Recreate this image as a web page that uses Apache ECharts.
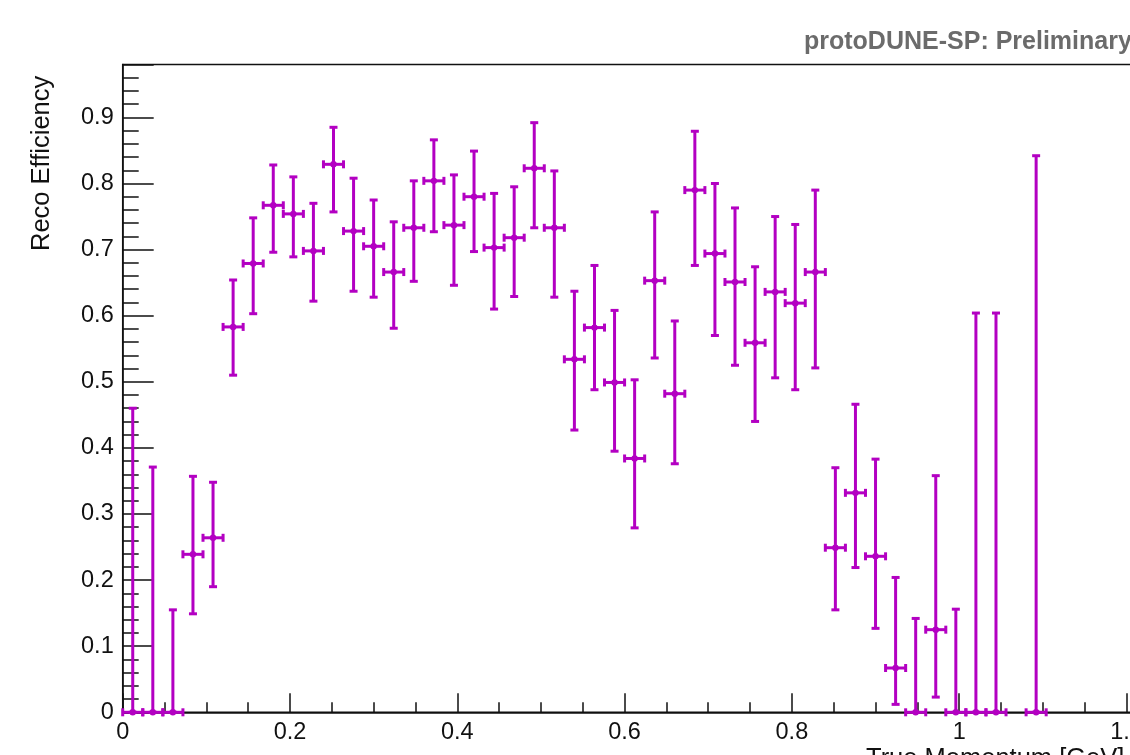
<!DOCTYPE html>
<html><head><meta charset="utf-8">
<script src="https://cdn.jsdelivr.net/npm/echarts@6/dist/echarts.min.js"></script>
<style>html,body{margin:0;padding:0;overflow:hidden;background:#fff}#c{width:1200px;height:755px}</style>
</head><body><div id="c"></div>
<script>
// Bin centres (GeV), efficiency values and the lower / upper ends of the error bars
const binCenters = [0.012,0.036,0.060,0.084,0.108,0.132,0.156,0.180,0.204,0.228,0.252,0.276,0.300,0.324,0.348,0.372,0.396,0.420,0.444,0.468,0.492,0.516,0.540,0.564,0.588,0.612,0.636,0.660,0.684,0.708,0.732,0.756,0.780,0.804,0.828,0.852,0.876,0.900,0.924,0.948,0.972,0.996,1.020,1.044,1.092];
const efficiency = [0,0,0,0.239,0.264,0.583,0.679,0.767,0.754,0.698,0.829,0.728,0.705,0.666,0.733,0.804,0.737,0.780,0.703,0.718,0.823,0.733,0.534,0.582,0.499,0.384,0.653,0.482,0.790,0.694,0.651,0.559,0.636,0.619,0.666,0.249,0.332,0.236,0.067,0,0.125,0,0,0,0];
const errLower = [0,0,0,0.149,0.190,0.510,0.603,0.696,0.689,0.622,0.757,0.637,0.628,0.581,0.652,0.727,0.646,0.697,0.610,0.629,0.733,0.628,0.427,0.488,0.395,0.279,0.536,0.376,0.676,0.570,0.525,0.440,0.506,0.488,0.521,0.155,0.219,0.127,0.012,0,0.023,0,0,0,0];
const errUpper = [0.460,0.371,0.155,0.357,0.348,0.654,0.748,0.828,0.810,0.770,0.885,0.808,0.775,0.742,0.804,0.866,0.813,0.849,0.785,0.795,0.892,0.819,0.637,0.676,0.608,0.503,0.757,0.592,0.879,0.800,0.763,0.674,0.750,0.738,0.790,0.370,0.466,0.383,0.204,0.142,0.358,0.156,0.604,0.604,0.842];
const binHalfWidth = 0.012;
const xTicks = [0, 0.2, 0.4, 0.6, 0.8, 1.0, 1.2];
const yTicks = [0, 0.1, 0.2, 0.3, 0.4, 0.5, 0.6, 0.7, 0.8, 0.9];

const COLOR = '#b300c2';
const AXIS = '#111';
const FONT = 'Liberation Sans, Arial, sans-serif';

const data = binCenters.map((x, i) => [x, efficiency[i], errLower[i], errUpper[i]]);

const chart = echarts.init(document.getElementById('c'));
chart.setOption({
  animation: false,
  backgroundColor: '#fff',
  title: [
    { text: 'protoDUNE-SP: Preliminary', left: 799, top: 25,
      textStyle: { fontFamily: FONT, fontSize: 25, fontWeight: 'bold', color: '#6b6b6b' } },
    { text: 'True Momentum [GeV]', left: 861, top: 741,
      textStyle: { fontFamily: FONT, fontSize: 25.5, fontWeight: 'normal', color: AXIS } }
  ],
  graphic: [{
    type: 'text', x: 42, y: 251, rotation: Math.PI / 2,
    style: { text: 'Reco Efficiency', fontFamily: FONT, fontSize: 25.5, fill: AXIS,
             textAlign: 'left', textVerticalAlign: 'middle' }
  }],
  grid: { left: 122.7, top: 64.5, width: 1045.6, height: 647.8,
          show: true, borderColor: AXIS, borderWidth: 1.5, backgroundColor: 'transparent' },
  xAxis: {
    type: 'value', min: 0, max: 1.25, interval: 0.2,
    axisLine: { lineStyle: { color: AXIS, width: 1.5 } },
    axisTick: { inside: true, length: 19, lineStyle: { color: AXIS, width: 1.5 } },
    minorTick: { show: true, splitNumber: 4, length: 10, lineStyle: { color: AXIS, width: 1.5 } },
    splitLine: { show: false },
    axisLabel: { fontFamily: FONT, fontSize: 23.5, color: AXIS, margin: 8, showMaxLabel: false,
      formatter: v => xTicks.some(t => Math.abs(t - v) < 1e-6) ? String(+v.toFixed(2)) : '' }
  },
  yAxis: {
    type: 'value', min: 0, max: 0.98, interval: 0.1,
    axisLine: { lineStyle: { color: AXIS, width: 1.5 } },
    axisTick: { inside: true, length: 31, lineStyle: { color: AXIS, width: 1.5 } },
    minorTick: { show: true, splitNumber: 5, length: 16, lineStyle: { color: AXIS, width: 1.5 } },
    splitLine: { show: false },
    axisLabel: { fontFamily: FONT, fontSize: 23.5, color: AXIS, margin: 9, showMaxLabel: false,
      formatter: v => yTicks.some(t => Math.abs(t - v) < 1e-6) ? String(+v.toFixed(2)) : '' }
  },
  series: [{
    type: 'custom',
    clip: false,
    data: data,
    renderItem: function (params, api) {
      const x = api.value(0), y = api.value(1), lo = api.value(2), hi = api.value(3);
      const pC = api.coord([x, y]);
      const pL = api.coord([x - binHalfWidth, y]);
      const pR = api.coord([x + binHalfWidth, y]);
      const pLo = api.coord([x, lo]);
      const pHi = api.coord([x, hi]);
      const cap = 4;
      const st = { stroke: COLOR, lineWidth: 3 };
      const line = (x1, y1, x2, y2) => ({ type: 'line', shape: { x1, y1, x2, y2 }, style: st });
      return {
        type: 'group',
        children: [
          line(pLo[0], pLo[1], pHi[0], pHi[1]),
          line(pL[0], pL[1], pR[0], pR[1]),
          line(pHi[0] - cap, pHi[1], pHi[0] + cap, pHi[1]),
          line(pLo[0] - cap, pLo[1], pLo[0] + cap, pLo[1]),
          line(pL[0], pL[1] - cap, pL[0], pL[1] + cap),
          line(pR[0], pR[1] - cap, pR[0], pR[1] + cap),
          { type: 'circle', shape: { cx: pC[0], cy: pC[1], r: 3.2 }, style: { fill: COLOR } }
        ]
      };
    }
  }]
});
</script>
</body></html>
